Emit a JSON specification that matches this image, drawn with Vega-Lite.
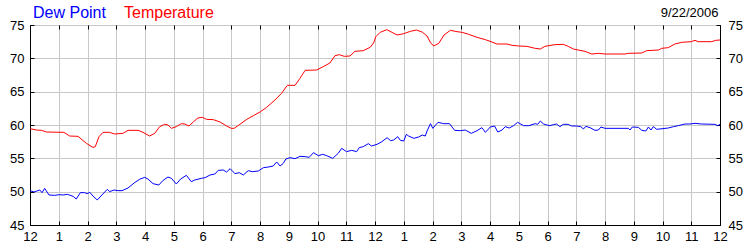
{
  "$schema": "https://vega.github.io/schema/vega-lite/v6.json",
  "width": 690,
  "height": 200,
  "autosize": {"type": "none"},
  "padding": {"left": 30, "top": 25, "right": 30, "bottom": 25},
  "background": "white",
  "config": {
    "font": "Liberation Sans",
    "view": {"stroke": "black", "strokeWidth": 1},
    "axis": {
      "gridColor": "#c8c8c8",
      "gridWidth": 1,
      "gridOpacity": 1,
      "domainColor": "black",
      "tickColor": "black",
      "tickSize": -4,
      "labelColor": "black",
      "labelFontSize": 13,
      "labelFont": "Liberation Sans"
    }
  },
  "data": {"values": [
    {"h":0,"v":59.45,"s":"Temperature"},{"h":0.22,"v":59.25,"s":"Temperature"},{"h":0.4,"v":59.2,"s":"Temperature"},{"h":0.57,"v":58.95,"s":"Temperature"},{"h":1.18,"v":58.9,"s":"Temperature"},{"h":1.38,"v":58.35,"s":"Temperature"},{"h":1.67,"v":58.3,"s":"Temperature"},{"h":1.96,"v":57.25,"s":"Temperature"},{"h":2.19,"v":56.65,"s":"Temperature"},{"h":2.27,"v":56.75,"s":"Temperature"},{"h":2.4,"v":58.25,"s":"Temperature"},{"h":2.54,"v":58.9,"s":"Temperature"},{"h":2.77,"v":58.9,"s":"Temperature"},{"h":2.94,"v":58.65,"s":"Temperature"},{"h":3.23,"v":58.75,"s":"Temperature"},{"h":3.41,"v":59.2,"s":"Temperature"},{"h":3.76,"v":59.2,"s":"Temperature"},{"h":3.93,"v":58.9,"s":"Temperature"},{"h":4.16,"v":58.35,"s":"Temperature"},{"h":4.34,"v":58.75,"s":"Temperature"},{"h":4.51,"v":59.75,"s":"Temperature"},{"h":4.68,"v":60.1,"s":"Temperature"},{"h":4.8,"v":60.0,"s":"Temperature"},{"h":4.92,"v":59.5,"s":"Temperature"},{"h":5.09,"v":59.75,"s":"Temperature"},{"h":5.26,"v":60.2,"s":"Temperature"},{"h":5.38,"v":60.15,"s":"Temperature"},{"h":5.53,"v":59.85,"s":"Temperature"},{"h":5.69,"v":60.5,"s":"Temperature"},{"h":5.84,"v":61.05,"s":"Temperature"},{"h":6.0,"v":61.15,"s":"Temperature"},{"h":6.14,"v":60.85,"s":"Temperature"},{"h":6.38,"v":60.8,"s":"Temperature"},{"h":6.61,"v":60.45,"s":"Temperature"},{"h":6.82,"v":59.9,"s":"Temperature"},{"h":7.0,"v":59.5,"s":"Temperature"},{"h":7.1,"v":59.5,"s":"Temperature"},{"h":7.3,"v":60.1,"s":"Temperature"},{"h":7.54,"v":60.85,"s":"Temperature"},{"h":7.77,"v":61.4,"s":"Temperature"},{"h":8.02,"v":62.0,"s":"Temperature"},{"h":8.23,"v":62.65,"s":"Temperature"},{"h":8.52,"v":63.75,"s":"Temperature"},{"h":8.75,"v":64.75,"s":"Temperature"},{"h":8.95,"v":65.95,"s":"Temperature"},{"h":9.22,"v":65.95,"s":"Temperature"},{"h":9.39,"v":67.0,"s":"Temperature"},{"h":9.57,"v":68.2,"s":"Temperature"},{"h":9.97,"v":68.25,"s":"Temperature"},{"h":10.2,"v":68.75,"s":"Temperature"},{"h":10.43,"v":69.3,"s":"Temperature"},{"h":10.61,"v":70.4,"s":"Temperature"},{"h":10.76,"v":70.55,"s":"Temperature"},{"h":10.93,"v":70.3,"s":"Temperature"},{"h":11.13,"v":70.35,"s":"Temperature"},{"h":11.3,"v":71.05,"s":"Temperature"},{"h":11.59,"v":71.15,"s":"Temperature"},{"h":11.83,"v":71.65,"s":"Temperature"},{"h":11.95,"v":72.3,"s":"Temperature"},{"h":12.03,"v":73.25,"s":"Temperature"},{"h":12.18,"v":73.9,"s":"Temperature"},{"h":12.41,"v":74.3,"s":"Temperature"},{"h":12.59,"v":73.9,"s":"Temperature"},{"h":12.77,"v":73.5,"s":"Temperature"},{"h":13.0,"v":73.7,"s":"Temperature"},{"h":13.23,"v":74.05,"s":"Temperature"},{"h":13.44,"v":74.25,"s":"Temperature"},{"h":13.64,"v":73.95,"s":"Temperature"},{"h":13.81,"v":73.35,"s":"Temperature"},{"h":13.93,"v":72.35,"s":"Temperature"},{"h":14.04,"v":71.85,"s":"Temperature"},{"h":14.22,"v":72.25,"s":"Temperature"},{"h":14.4,"v":73.5,"s":"Temperature"},{"h":14.62,"v":74.2,"s":"Temperature"},{"h":14.85,"v":74.0,"s":"Temperature"},{"h":15.03,"v":73.9,"s":"Temperature"},{"h":15.26,"v":73.6,"s":"Temperature"},{"h":15.55,"v":73.15,"s":"Temperature"},{"h":15.84,"v":72.8,"s":"Temperature"},{"h":16.07,"v":72.45,"s":"Temperature"},{"h":16.24,"v":72.15,"s":"Temperature"},{"h":16.59,"v":72.15,"s":"Temperature"},{"h":16.77,"v":71.95,"s":"Temperature"},{"h":17.0,"v":71.85,"s":"Temperature"},{"h":17.28,"v":71.8,"s":"Temperature"},{"h":17.57,"v":71.5,"s":"Temperature"},{"h":17.75,"v":71.4,"s":"Temperature"},{"h":17.91,"v":71.8,"s":"Temperature"},{"h":18.05,"v":71.9,"s":"Temperature"},{"h":18.26,"v":72.05,"s":"Temperature"},{"h":18.55,"v":72.1,"s":"Temperature"},{"h":18.72,"v":71.8,"s":"Temperature"},{"h":18.9,"v":71.4,"s":"Temperature"},{"h":19.07,"v":71.25,"s":"Temperature"},{"h":19.3,"v":71.05,"s":"Temperature"},{"h":19.54,"v":70.65,"s":"Temperature"},{"h":19.77,"v":70.75,"s":"Temperature"},{"h":20.0,"v":70.65,"s":"Temperature"},{"h":20.35,"v":70.65,"s":"Temperature"},{"h":20.7,"v":70.65,"s":"Temperature"},{"h":20.81,"v":70.75,"s":"Temperature"},{"h":21.28,"v":70.8,"s":"Temperature"},{"h":21.45,"v":71.15,"s":"Temperature"},{"h":21.86,"v":71.25,"s":"Temperature"},{"h":21.97,"v":71.5,"s":"Temperature"},{"h":22.2,"v":71.6,"s":"Temperature"},{"h":22.43,"v":72.15,"s":"Temperature"},{"h":22.67,"v":72.4,"s":"Temperature"},{"h":23.0,"v":72.5,"s":"Temperature"},{"h":23.13,"v":72.7,"s":"Temperature"},{"h":23.24,"v":72.5,"s":"Temperature"},{"h":23.71,"v":72.5,"s":"Temperature"},{"h":23.85,"v":72.7,"s":"Temperature"},{"h":24.0,"v":72.75,"s":"Temperature"},
    {"h":0,"v":50.15,"s":"Dew Point"},{"h":0.14,"v":49.95,"s":"Dew Point"},{"h":0.34,"v":50.25,"s":"Dew Point"},{"h":0.42,"v":49.85,"s":"Dew Point"},{"h":0.51,"v":50.5,"s":"Dew Point"},{"h":0.66,"v":49.5,"s":"Dew Point"},{"h":0.86,"v":49.45,"s":"Dew Point"},{"h":1.03,"v":49.55,"s":"Dew Point"},{"h":1.15,"v":49.5,"s":"Dew Point"},{"h":1.3,"v":49.6,"s":"Dew Point"},{"h":1.5,"v":49.3,"s":"Dew Point"},{"h":1.61,"v":48.9,"s":"Dew Point"},{"h":1.75,"v":49.85,"s":"Dew Point"},{"h":1.9,"v":49.85,"s":"Dew Point"},{"h":1.99,"v":49.7,"s":"Dew Point"},{"h":2.08,"v":49.9,"s":"Dew Point"},{"h":2.19,"v":49.35,"s":"Dew Point"},{"h":2.34,"v":48.75,"s":"Dew Point"},{"h":2.5,"v":49.5,"s":"Dew Point"},{"h":2.69,"v":50.35,"s":"Dew Point"},{"h":2.77,"v":50.0,"s":"Dew Point"},{"h":2.92,"v":50.25,"s":"Dew Point"},{"h":3.06,"v":50.15,"s":"Dew Point"},{"h":3.2,"v":50.15,"s":"Dew Point"},{"h":3.41,"v":50.55,"s":"Dew Point"},{"h":3.62,"v":51.3,"s":"Dew Point"},{"h":3.81,"v":51.85,"s":"Dew Point"},{"h":3.99,"v":52.15,"s":"Dew Point"},{"h":4.1,"v":51.9,"s":"Dew Point"},{"h":4.28,"v":51.2,"s":"Dew Point"},{"h":4.48,"v":51.0,"s":"Dew Point"},{"h":4.63,"v":51.7,"s":"Dew Point"},{"h":4.8,"v":52.2,"s":"Dew Point"},{"h":4.92,"v":52.0,"s":"Dew Point"},{"h":5.09,"v":51.15,"s":"Dew Point"},{"h":5.24,"v":51.9,"s":"Dew Point"},{"h":5.44,"v":52.45,"s":"Dew Point"},{"h":5.61,"v":51.5,"s":"Dew Point"},{"h":5.73,"v":51.75,"s":"Dew Point"},{"h":5.96,"v":52.0,"s":"Dew Point"},{"h":6.09,"v":52.1,"s":"Dew Point"},{"h":6.26,"v":52.5,"s":"Dew Point"},{"h":6.43,"v":52.65,"s":"Dew Point"},{"h":6.55,"v":53.2,"s":"Dew Point"},{"h":6.72,"v":53.25,"s":"Dew Point"},{"h":6.84,"v":52.95,"s":"Dew Point"},{"h":6.96,"v":53.45,"s":"Dew Point"},{"h":7.13,"v":52.7,"s":"Dew Point"},{"h":7.28,"v":52.85,"s":"Dew Point"},{"h":7.42,"v":52.5,"s":"Dew Point"},{"h":7.59,"v":53.15,"s":"Dew Point"},{"h":7.74,"v":53.0,"s":"Dew Point"},{"h":7.94,"v":53.1,"s":"Dew Point"},{"h":8.12,"v":53.6,"s":"Dew Point"},{"h":8.29,"v":53.7,"s":"Dew Point"},{"h":8.46,"v":53.85,"s":"Dew Point"},{"h":8.58,"v":54.45,"s":"Dew Point"},{"h":8.7,"v":53.85,"s":"Dew Point"},{"h":8.81,"v":54.25,"s":"Dew Point"},{"h":8.9,"v":54.9,"s":"Dew Point"},{"h":9.04,"v":55.1,"s":"Dew Point"},{"h":9.22,"v":54.95,"s":"Dew Point"},{"h":9.39,"v":55.3,"s":"Dew Point"},{"h":9.57,"v":55.25,"s":"Dew Point"},{"h":9.71,"v":55.15,"s":"Dew Point"},{"h":9.86,"v":55.85,"s":"Dew Point"},{"h":10.03,"v":55.4,"s":"Dew Point"},{"h":10.18,"v":55.6,"s":"Dew Point"},{"h":10.32,"v":55.4,"s":"Dew Point"},{"h":10.53,"v":55.0,"s":"Dew Point"},{"h":10.72,"v":55.75,"s":"Dew Point"},{"h":10.84,"v":56.5,"s":"Dew Point"},{"h":11.01,"v":56.0,"s":"Dew Point"},{"h":11.19,"v":56.2,"s":"Dew Point"},{"h":11.36,"v":56.0,"s":"Dew Point"},{"h":11.45,"v":56.6,"s":"Dew Point"},{"h":11.59,"v":56.75,"s":"Dew Point"},{"h":11.77,"v":57.2,"s":"Dew Point"},{"h":11.88,"v":56.85,"s":"Dew Point"},{"h":12.07,"v":57.1,"s":"Dew Point"},{"h":12.24,"v":57.5,"s":"Dew Point"},{"h":12.42,"v":58.1,"s":"Dew Point"},{"h":12.54,"v":57.65,"s":"Dew Point"},{"h":12.65,"v":57.75,"s":"Dew Point"},{"h":12.79,"v":58.25,"s":"Dew Point"},{"h":12.88,"v":57.7,"s":"Dew Point"},{"h":13.0,"v":57.6,"s":"Dew Point"},{"h":13.09,"v":58.6,"s":"Dew Point"},{"h":13.17,"v":58.35,"s":"Dew Point"},{"h":13.35,"v":58.0,"s":"Dew Point"},{"h":13.52,"v":58.2,"s":"Dew Point"},{"h":13.64,"v":58.5,"s":"Dew Point"},{"h":13.75,"v":58.35,"s":"Dew Point"},{"h":13.81,"v":59.1,"s":"Dew Point"},{"h":13.93,"v":60.2,"s":"Dew Point"},{"h":14.01,"v":59.5,"s":"Dew Point"},{"h":14.19,"v":60.4,"s":"Dew Point"},{"h":14.39,"v":60.2,"s":"Dew Point"},{"h":14.59,"v":60.2,"s":"Dew Point"},{"h":14.77,"v":59.2,"s":"Dew Point"},{"h":14.97,"v":59.15,"s":"Dew Point"},{"h":15.14,"v":59.25,"s":"Dew Point"},{"h":15.35,"v":58.75,"s":"Dew Point"},{"h":15.55,"v":59.15,"s":"Dew Point"},{"h":15.72,"v":59.6,"s":"Dew Point"},{"h":15.84,"v":58.9,"s":"Dew Point"},{"h":16.01,"v":59.7,"s":"Dew Point"},{"h":16.16,"v":59.85,"s":"Dew Point"},{"h":16.27,"v":58.95,"s":"Dew Point"},{"h":16.42,"v":59.25,"s":"Dew Point"},{"h":16.53,"v":59.75,"s":"Dew Point"},{"h":16.67,"v":59.55,"s":"Dew Point"},{"h":16.82,"v":59.9,"s":"Dew Point"},{"h":16.96,"v":60.4,"s":"Dew Point"},{"h":17.17,"v":59.9,"s":"Dew Point"},{"h":17.35,"v":59.9,"s":"Dew Point"},{"h":17.57,"v":60.2,"s":"Dew Point"},{"h":17.66,"v":60.1,"s":"Dew Point"},{"h":17.75,"v":60.6,"s":"Dew Point"},{"h":17.86,"v":60.15,"s":"Dew Point"},{"h":17.98,"v":60.0,"s":"Dew Point"},{"h":18.08,"v":59.9,"s":"Dew Point"},{"h":18.2,"v":60.05,"s":"Dew Point"},{"h":18.32,"v":60.15,"s":"Dew Point"},{"h":18.43,"v":59.75,"s":"Dew Point"},{"h":18.55,"v":60.1,"s":"Dew Point"},{"h":18.72,"v":60.1,"s":"Dew Point"},{"h":18.84,"v":59.85,"s":"Dew Point"},{"h":19.01,"v":59.85,"s":"Dew Point"},{"h":19.16,"v":59.75,"s":"Dew Point"},{"h":19.25,"v":59.4,"s":"Dew Point"},{"h":19.33,"v":59.8,"s":"Dew Point"},{"h":19.48,"v":59.6,"s":"Dew Point"},{"h":19.65,"v":59.2,"s":"Dew Point"},{"h":19.77,"v":59.25,"s":"Dew Point"},{"h":19.86,"v":59.7,"s":"Dew Point"},{"h":20.0,"v":59.5,"s":"Dew Point"},{"h":20.81,"v":59.5,"s":"Dew Point"},{"h":20.87,"v":59.25,"s":"Dew Point"},{"h":20.95,"v":59.7,"s":"Dew Point"},{"h":21.16,"v":59.65,"s":"Dew Point"},{"h":21.28,"v":59.2,"s":"Dew Point"},{"h":21.42,"v":59.1,"s":"Dew Point"},{"h":21.51,"v":59.7,"s":"Dew Point"},{"h":21.6,"v":59.25,"s":"Dew Point"},{"h":21.68,"v":59.75,"s":"Dew Point"},{"h":21.8,"v":59.35,"s":"Dew Point"},{"h":22.2,"v":59.55,"s":"Dew Point"},{"h":22.38,"v":59.75,"s":"Dew Point"},{"h":22.55,"v":59.9,"s":"Dew Point"},{"h":22.78,"v":60.15,"s":"Dew Point"},{"h":22.95,"v":60.15,"s":"Dew Point"},{"h":23.13,"v":60.25,"s":"Dew Point"},{"h":23.36,"v":60.15,"s":"Dew Point"},{"h":23.83,"v":60.1,"s":"Dew Point"},{"h":23.92,"v":59.9,"s":"Dew Point"},{"h":24.0,"v":60.1,"s":"Dew Point"}
  ]},
  "layer": [
    {
      "mark": {"type": "line", "strokeWidth": 1, "interpolate": "linear"},
      "encoding": {
        "x": {"field": "h", "type": "quantitative", "scale": {"domain": [0, 24], "nice": false, "zero": false},
              "axis": {"orient": "bottom", "title": null, "values": [0,1,2,3,4,5,6,7,8,9,10,11,12,13,14,15,16,17,18,19,20,21,22,23,24], "labelExpr": "datum.value % 12 == 0 ? '12' : '' + (datum.value % 12)", "labelPadding": 9, "labelFlush": false, "labelOverlap": false, "grid": true}},
        "y": {"field": "v", "type": "quantitative", "scale": {"domain": [45, 75], "nice": false, "zero": false},
              "axis": {"orient": "left", "title": null, "values": [45,50,55,60,65,70,75], "labelPadding": 10, "grid": true, "labelFlush": false, "labelOverlap": false}},
        "color": {"field": "s", "type": "nominal", "scale": {"domain": ["Dew Point", "Temperature"], "range": ["#0000ff", "#ff0000"]},
                  "legend": {"orient": "none", "legendX": -13, "legendY": -20, "direction": "horizontal", "title": null, "padding": 0,
                             "symbolSize": 0, "symbolStrokeWidth": 0, "symbolOpacity": 0, "labelOffset": 0, "columnPadding": 2,
                             "labelFontSize": 16, "labelFont": "Liberation Sans",
                             "encode": {"labels": {"update": {"fill": {"scale": "color", "field": "value"}}}}}}
      }
    },
    {
      "mark": {"type": "line", "strokeWidth": 1, "opacity": 0},
      "encoding": {
        "x": {"field": "h", "type": "quantitative", "scale": {"domain": [0, 24], "nice": false, "zero": false},
              "axis": {"orient": "top", "values": [0,1,2,3,4,5,6,7,8,9,10,11,12,13,14,15,16,17,18,19,20,21,22,23,24], "labels": false, "grid": false, "domain": false,
                       "title": "9/22/2006", "titleAnchor": "end", "titleAlign": "right", "titleFontWeight": "normal", "titleFontSize": 13, "titleFont": "Liberation Sans", "titleColor": "black", "titlePadding": 5, "titleX": 688}},
        "y": {"field": "v", "type": "quantitative", "scale": {"domain": [45, 75], "nice": false, "zero": false},
              "axis": {"orient": "right", "title": null, "values": [45,50,55,60,65,70,75], "labelPadding": 12, "grid": false, "labelFlush": false, "labelOverlap": false, "labelAlign": "left"}},
        "detail": {"field": "s", "type": "nominal"}
      }
    }
  ],
  "resolve": {"axis": {"x": "independent", "y": "independent"}}
}
